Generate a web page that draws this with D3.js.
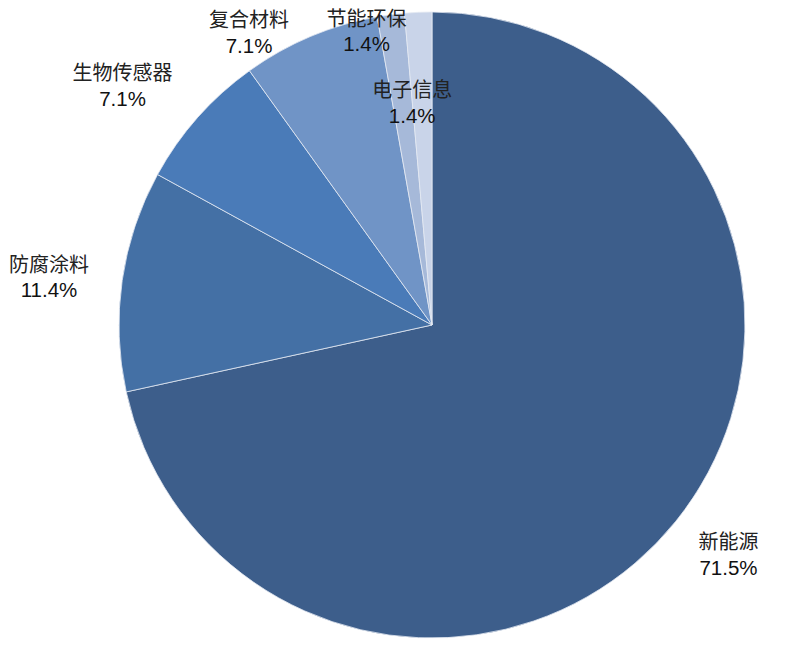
<!DOCTYPE html>
<html>
<head>
<meta charset="utf-8">
<script src="https://cdn.jsdelivr.net/npm/d3@7"></script>
<style>
    html, body { margin: 0; padding: 0; background: #fff; }
    .name { font-family: "Noto Sans CJK SC", sans-serif; font-size: 20px; fill: #222; }
    .pct { font-family: "Liberation Sans", Arial, sans-serif; font-size: 20.5px; fill: #111; }
</style>
</head>
<body>
<svg id="chart" width="800" height="653"></svg>
<script>
    'use strict';

    var categories = ['新能源', '防腐涂料', '生物传感器', '复合材料', '节能环保', '电子信息'];
    var shares = [71.5, 11.4, 7.1, 7.1, 1.4, 1.4];
    var shareLabels = ['71.5%', '11.4%', '7.1%', '7.1%', '1.4%', '1.4%'];

    var COLORS = ['#3d5e8b', '#4470a5', '#4a7bb8', '#7094c6', '#a6b9d9', '#c9d4e9'];
    var CENTER = { x: 432, y: 325 };
    var RADIUS = 313;
    // label distance from centre and a nudge, one per slice
    var LABEL_POS = [
        { r: 378, dx: 2, dy: -8 },
        { r: 387, dx: 0, dy: 7 },
        { r: 392, dx: -16, dy: 20 },
        { r: 347, dx: -48, dy: 27 },
        { r: 300, dx: -26, dy: 3 },
        { r: 223, dx: -10, dy: 0 }
    ];

    var svg = d3.select('#chart');
    var g = svg.append('g')
        .attr('transform', 'translate(' + CENTER.x + ',' + CENTER.y + ')');

    var pie = d3.pie().sort(null).value(function (d) { return d; });
    var arcs = pie(shares);

    var arc = d3.arc().innerRadius(0).outerRadius(RADIUS);

    g.selectAll('path.slice')
        .data(arcs)
        .enter()
        .append('path')
        .attr('class', 'slice')
        .attr('d', arc)
        .attr('fill', function (d, i) { return COLORS[i]; })
        .attr('stroke', '#e4eaf3')
        .attr('stroke-width', 0.8)
        .attr('stroke-linejoin', 'round');

    var labels = g.selectAll('g.label')
        .data(arcs)
        .enter()
        .append('g')
        .attr('class', 'label')
        .attr('transform', function (d, i) {
            var p = LABEL_POS[i];
            var c = d3.arc().innerRadius(p.r).outerRadius(p.r).centroid(d);
            return 'translate(' + (c[0] + p.dx) + ',' + (c[1] + p.dy) + ')';
        });

    labels.append('text')
        .attr('class', 'name')
        .attr('text-anchor', 'middle')
        .attr('y', -5)
        .text(function (d, i) { return categories[i]; });

    labels.append('text')
        .attr('class', 'pct')
        .attr('text-anchor', 'middle')
        .attr('y', 20.5)
        .text(function (d, i) { return shareLabels[i]; });
</script>
</body>
</html>
